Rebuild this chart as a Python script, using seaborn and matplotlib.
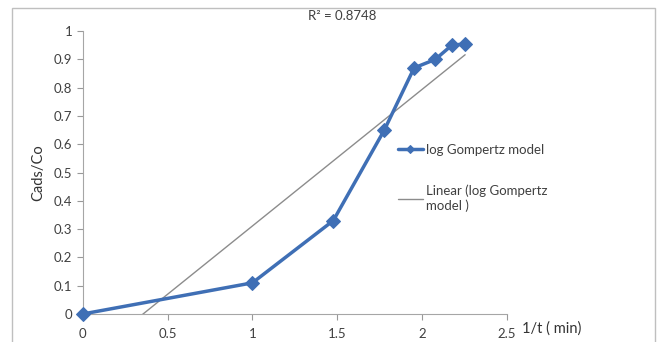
import matplotlib
matplotlib.use("Agg")
import matplotlib.pyplot as plt
import numpy as np
import pandas as pd
import seaborn as sns
from matplotlib.patches import Rectangle

# data
inv_t = [0, 1.0, 1.477, 1.778, 1.954, 2.079, 2.176, 2.255]
cads_co = [0, 0.11, 0.33, 0.65, 0.87, 0.90, 0.95, 0.955]
r2_text = "R² = 0.8748"
x_ticks = [0, 0.5, 1, 1.5, 2, 2.5]
y_ticks = [0, 0.1, 0.2, 0.3, 0.4, 0.5, 0.6, 0.7, 0.8, 0.9, 1]

df = pd.DataFrame({"x": inv_t, "y": cads_co})

sns.set_style("white")
plt.rcParams["font.family"] = ["Lato", "DejaVu Sans"]

fig = plt.figure(figsize=(6.58, 3.42), dpi=100)
ax = fig.add_axes([0.126, 0.082, 0.644, 0.827])

blue = "#3f6fb5"
gray = "#8c8c8c"

sns.regplot(data=df, x="x", y="y", scatter=False, ci=None, truncate=True,
            line_kws=dict(color=gray, lw=1.0), ax=ax,
            label="Linear (log Gompertz\nmodel )")
sns.lineplot(data=df, x="x", y="y", marker="D", markersize=7, color=blue,
             lw=2.5, markeredgecolor=blue, ax=ax, label="log Gompertz model")
ax.lines[-1].set_clip_on(False)
ax.lines[-1].set_zorder(5)

ax.set_xlim(0, 2.5)
ax.set_ylim(0, 1)
ax.set_xticks(x_ticks)
ax.set_xticklabels([f"{v:g}" for v in x_ticks])
ax.set_yticks(y_ticks)
ax.set_yticklabels([f"{v:g}" for v in y_ticks])
ax.set_xlabel("")
ax.set_ylabel("Cads/Co", fontsize=10.5, color="#333333", labelpad=6)
ax.tick_params(axis="both", direction="out", length=4, width=0.8, color="#999999",
               labelsize=9.5, labelcolor="#404040", left=True, bottom=True)
ax.tick_params(axis="x", pad=6)
for side in ["top", "right"]:
    ax.spines[side].set_visible(False)
for side in ["left", "bottom"]:
    ax.spines[side].set_color("#a6a6a6")
    ax.spines[side].set_linewidth(0.8)

fig.text(522 / 658, 1 - 329 / 342, "1/t ( min)", fontsize=10.5, color="#333333",
         va="center", ha="left")
fig.text(342 / 658, 1 - 16 / 342, r2_text, fontsize=9.5, color="#404040",
         va="center", ha="center")

handles, labels = ax.get_legend_handles_labels()
order = [1, 0]
ax.legend([handles[i] for i in order], [labels[i] for i in order],
          loc="upper left", bbox_to_anchor=(386 / 658, 1 - 132 / 342),
          bbox_transform=fig.transFigure, frameon=False, fontsize=9.5,
          handlelength=1.9, handletextpad=0.2, labelspacing=2.2,
          markerscale=0.6, labelcolor="#404040")

fig.patches.append(Rectangle((12 / 658, -0.02), 643 / 658, 1 - 8 / 342 + 0.02,
                             transform=fig.transFigure, fill=False,
                             edgecolor="#bfbfbf", lw=1.0))

fig.savefig("out.png", dpi=100)
